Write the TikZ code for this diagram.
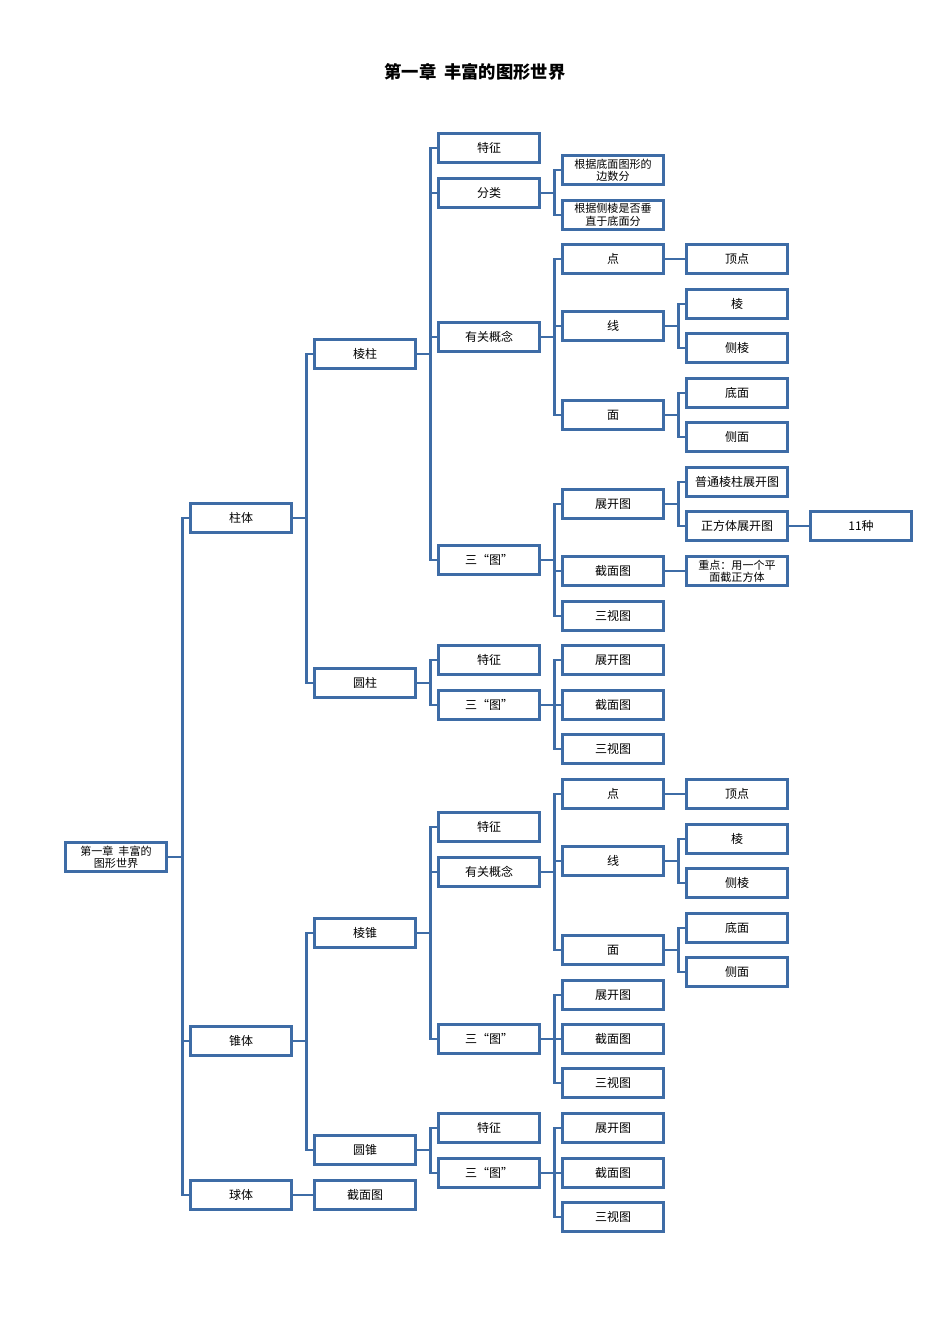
\documentclass[tikz,border=0pt]{standalone}
\usepackage{fontspec}
\setmainfont{Liberation Serif}
\newfontfamily\cjk{Noto Sans CJK SC}
\definecolor{bx}{HTML}{3E6CA6}
\begin{document}
\begin{tikzpicture}[x=0.75pt,y=-0.75pt,
 bxs/.style={draw=bx,line width=2.2pt,fill=white,minimum width=76pt,minimum height=22pt,inner sep=1pt,font=\cjk\fontsize{9}{10}\selectfont,align=center},
 sm/.style={bxs,font=\cjk\fontsize{8.3}{9.3}\selectfont},
 ln/.style={draw=bx,line width=2.2pt}]
\useasboundingbox (0,0) rectangle (950,1344);
\node[font=\cjk\bfseries\fontsize{13}{15}\selectfont] (title) at (475,72) {第一章\ \ 丰富的图形世界};
\newcommand\cn[2]{\foreach \c in {#2} {\draw[ln] (#1.east) -| ([xshift=-4.5pt]\c.west) -- (\c.west);}}
% columns
\def\ca{116}\def\cb{241}\def\cc{365}\def\cd{489}\def\ce{613}\def\cf{737}\def\cg{861}
% draw connectors first using coordinates? nodes needed first; use on background approach: draw nodes, then connectors, then redraw? simpler: connectors end at borders
\node[sm] (root) at (\ca,857) {第一章\ \ 丰富的\\图形世界};
\node[bxs] (zt) at (\cb,518) {柱体};
\node[bxs] (zhui) at (\cb,1041) {锥体};
\node[bxs] (qiu) at (\cb,1195) {球体};
\node[bxs] (lz) at (\cc,354) {棱柱};
\node[bxs] (yz) at (\cc,683) {圆柱};
\node[bxs] (lzh) at (\cc,933) {棱锥};
\node[bxs] (yzh) at (\cc,1150) {圆锥};
\node[bxs] (qjm) at (\cc,1195) {截面图};
% 棱柱
\node[bxs] (a1) at (\cd,148) {特征};
\node[bxs] (a2) at (\cd,193) {分类};
\node[bxs] (a3) at (\cd,337) {有关概念};
\node[bxs] (a4) at (\cd,560) {三“图”};
\node[sm] (b1) at (\ce,170) {根据底面图形的\\边数分};
\node[sm] (b2) at (\ce,215) {根据侧棱是否垂\\直于底面分};
\node[bxs] (b3) at (\ce,259) {点};
\node[bxs] (b4) at (\ce,326) {线};
\node[bxs] (b5) at (\ce,415) {面};
\node[bxs] (b6) at (\ce,504) {展开图};
\node[bxs] (b7) at (\ce,571) {截面图};
\node[bxs] (b8) at (\ce,616) {三视图};
\node[bxs] (c1) at (\cf,259) {顶点};
\node[bxs] (c2) at (\cf,304) {棱};
\node[bxs] (c3) at (\cf,348) {侧棱};
\node[bxs] (c4) at (\cf,393) {底面};
\node[bxs] (c5) at (\cf,437) {侧面};
\node[bxs] (c6) at (\cf,482) {普通棱柱展开图};
\node[bxs] (c7) at (\cf,526) {正方体展开图};
\node[sm] (c8) at (\cf,571) {重点：用一个平\\面截正方体};
\node[bxs] (d1) at (\cg,526) {11种};
% 圆柱
\node[bxs] (e1) at (\cd,660) {特征};
\node[bxs] (e2) at (\cd,705) {三“图”};
\node[bxs] (e3) at (\ce,660) {展开图};
\node[bxs] (e4) at (\ce,705) {截面图};
\node[bxs] (e5) at (\ce,749) {三视图};
% 棱锥
\node[bxs] (f1) at (\cd,827) {特征};
\node[bxs] (f2) at (\cd,872) {有关概念};
\node[bxs] (f3) at (\cd,1039) {三“图”};
\node[bxs] (g1) at (\ce,794) {点};
\node[bxs] (g2) at (\ce,861) {线};
\node[bxs] (g3) at (\ce,950) {面};
\node[bxs] (g4) at (\ce,995) {展开图};
\node[bxs] (g5) at (\ce,1039) {截面图};
\node[bxs] (g6) at (\ce,1083) {三视图};
\node[bxs] (h1) at (\cf,794) {顶点};
\node[bxs] (h2) at (\cf,839) {棱};
\node[bxs] (h3) at (\cf,883) {侧棱};
\node[bxs] (h4) at (\cf,928) {底面};
\node[bxs] (h5) at (\cf,972) {侧面};
% 圆锥
\node[bxs] (i1) at (\cd,1128) {特征};
\node[bxs] (i2) at (\cd,1173) {三“图”};
\node[bxs] (i3) at (\ce,1128) {展开图};
\node[bxs] (i4) at (\ce,1173) {截面图};
\node[bxs] (i5) at (\ce,1217) {三视图};
% connectors
\cn{root}{zt,zhui,qiu}
\cn{zt}{lz,yz}
\cn{zhui}{lzh,yzh}
\cn{qiu}{qjm}
\cn{lz}{a1,a2,a3,a4}
\cn{a2}{b1,b2}
\cn{a3}{b3,b4,b5}
\cn{a4}{b6,b7,b8}
\cn{b3}{c1}
\cn{b4}{c2,c3}
\cn{b5}{c4,c5}
\cn{b6}{c6,c7}
\cn{b7}{c8}
\cn{c7}{d1}
\cn{yz}{e1,e2}
\cn{e2}{e3,e4,e5}
\cn{lzh}{f1,f2,f3}
\cn{f2}{g1,g2,g3}
\cn{f3}{g4,g5,g6}
\cn{g1}{h1}
\cn{g2}{h2,h3}
\cn{g3}{h4,h5}
\cn{yzh}{i1,i2}
\cn{i2}{i3,i4,i5}
\end{tikzpicture}
\end{document}
